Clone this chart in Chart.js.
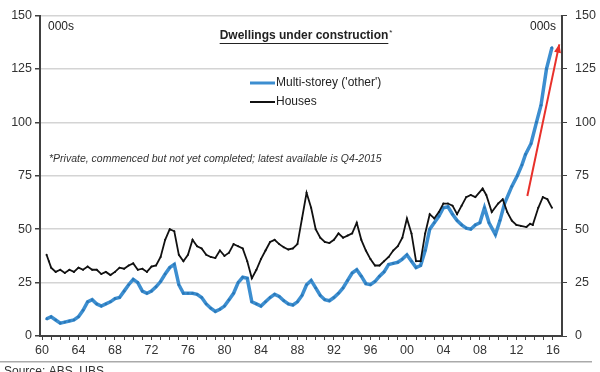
<!DOCTYPE html>
<html>
<head>
<meta charset="utf-8">
<script src="https://cdn.jsdelivr.net/npm/chart.js@4.4.0/dist/chart.umd.min.js"></script>
<style>
  html, body { margin: 0; padding: 0; background: #fff; }
  #wrap { width: 600px; height: 372px; position: relative; }
</style>
</head>
<body>
<div id="wrap"><canvas id="chart"></canvas></div>
<script>
// Dwellings under construction (000s)
const multiYears = [1960.5, 1961, 1961.5, 1962, 1962.5, 1963, 1963.5, 1964, 1964.5, 1965, 1965.5, 1966, 1966.5, 1967, 1967.5, 1968, 1968.5, 1969, 1969.5, 1970, 1970.5, 1971, 1971.5, 1972, 1972.5, 1973, 1973.5, 1974, 1974.5, 1975, 1975.5, 1976, 1976.5, 1977, 1977.5, 1978, 1978.5, 1979, 1979.5, 1980, 1980.5, 1981, 1981.5, 1982, 1982.5, 1983, 1983.5, 1984, 1984.5, 1985, 1985.5, 1986, 1986.5, 1987, 1987.5, 1988, 1988.5, 1989, 1989.5, 1990, 1990.5, 1991, 1991.5, 1992, 1992.5, 1993, 1993.5, 1994, 1994.5, 1995, 1995.5, 1996, 1996.5, 1997, 1997.5, 1998, 1998.5, 1999, 1999.5, 2000, 2000.5, 2001, 2001.5, 2002, 2002.5, 2003, 2003.5, 2004, 2004.5, 2005, 2005.5, 2006, 2006.5, 2007, 2007.5, 2008, 2008.5, 2009, 2009.7, 2010.2, 2010.7, 2011.5, 2012.1, 2012.6, 2013, 2013.6, 2014.2, 2014.7, 2015.3, 2015.9];
const multiValues = [8, 9, 7.5, 6, 6.5, 7, 7.5, 9, 12, 16, 17, 15, 14, 15, 16, 17.5, 18, 21, 24, 26.5, 25, 21, 20, 21, 23, 25.5, 29, 32, 33.5, 24, 20, 20, 20, 19.5, 18, 15, 13, 11.5, 12.5, 14, 17, 20, 25, 27.5, 27, 16, 15, 14, 16, 18, 19.5, 18.5, 16.5, 15, 14.5, 16, 19, 24, 26, 22.5, 19, 17, 16.5, 18, 20, 22.5, 26, 29.5, 31, 28, 24.5, 24, 25.5, 28, 30, 33.5, 34, 34.5, 36, 38, 35, 32, 33, 40, 50, 53, 56, 60, 60.5, 57, 54, 52, 50.5, 50, 52, 53, 60, 53, 47.5, 54, 62, 70, 75, 80, 85, 90, 100, 108, 125, 135];

const houseYears = [1960.5, 1960.75, 1961, 1961.5, 1962, 1962.5, 1963, 1963.5, 1964, 1964.5, 1965, 1965.5, 1966, 1966.5, 1967, 1967.5, 1968, 1968.5, 1969, 1969.5, 1970, 1970.5, 1971, 1971.5, 1972, 1972.5, 1973, 1973.5, 1974, 1974.5, 1975, 1975.5, 1976, 1976.5, 1977, 1977.5, 1978, 1978.5, 1979, 1979.5, 1980, 1980.5, 1981, 1981.5, 1982, 1982.5, 1983, 1983.5, 1984, 1984.5, 1985, 1985.5, 1986, 1986.5, 1987, 1987.5, 1988, 1988.5, 1989, 1989.5, 1990, 1990.5, 1991, 1991.5, 1992, 1992.5, 1993, 1993.5, 1994, 1994.5, 1995, 1995.5, 1996, 1996.5, 1997, 1997.5, 1998, 1998.5, 1999, 1999.5, 2000, 2000.5, 2001, 2001.5, 2002, 2002.5, 2003, 2003.5, 2004, 2004.5, 2005, 2005.5, 2006, 2006.5, 2007, 2007.5, 2008.3, 2008.7, 2009.3, 2010, 2010.5, 2011, 2011.5, 2012, 2012.5, 2013.1, 2013.5, 2013.8, 2014.4, 2014.9, 2015.4, 2015.9];
const houseValues = [38, 35, 32, 30, 31, 29.5, 31, 30, 32, 31, 32.5, 31, 31, 29, 30, 28.5, 30, 32, 31.5, 33, 34, 31, 31.5, 30, 32.5, 33, 37, 45, 50, 49, 38, 35, 38, 45, 42, 41, 38, 37, 36.5, 40, 37.5, 39, 43, 42, 41, 35, 27, 31, 36, 40, 44, 45, 43, 41.5, 40.5, 41, 43, 55, 67, 60, 50, 46, 44, 43.5, 45, 48, 46, 47, 48, 53, 45, 40, 36, 33, 33, 35, 37, 40, 42, 46, 55, 48, 35, 35, 48, 57, 55, 58, 62, 62, 61, 57, 61, 65, 66, 65, 69, 66, 58, 62, 64, 58, 54, 52, 51.5, 51, 52.5, 52, 60, 65, 64, 60];

// red trend arrow (start, head)
const arrowYears = [2013.2, 2016.7];
const arrowValues = [65.5, 136.5];

const yTicks = [0, 25, 50, 75, 100, 125, 150];
const xTickYears = [];
for (let y = 1960; y <= 2016; y++) xTickYears.push(y);

const toPoints = (xs, ys) => xs.map((x, i) => ({ x: x, y: ys[i] }));

const FONT = "'Liberation Sans', Arial, sans-serif";
const axisColor = '#404040';
const gridColor = '#d4d4d4';
const blue = '#3c8ed0';

// text, legend, arrowhead, source note
const decorPlugin = {
  id: 'decor',
  afterDatasetsDraw(chart) {
    const ctx = chart.ctx;
    const area = chart.chartArea;
    const xs = chart.scales.x;
    const ys = chart.scales.y;
    ctx.save();

    // arrowhead
    const x1 = xs.getPixelForValue(arrowYears[0]), y1 = ys.getPixelForValue(arrowValues[0]);
    const x2 = xs.getPixelForValue(arrowYears[1]), y2 = ys.getPixelForValue(arrowValues[1]);
    const ang = Math.atan2(y2 - y1, x2 - x1);
    ctx.fillStyle = '#e8302a';
    ctx.beginPath();
    ctx.moveTo(x2, y2);
    ctx.lineTo(x2 - 9 * Math.cos(ang - 0.4), y2 - 9 * Math.sin(ang - 0.4));
    ctx.lineTo(x2 - 9 * Math.cos(ang + 0.4), y2 - 9 * Math.sin(ang + 0.4));
    ctx.closePath();
    ctx.fill();

    ctx.fillStyle = '#222';
    ctx.textBaseline = 'middle';
    ctx.font = '12px ' + FONT;
    ctx.textAlign = 'left';
    ctx.fillText('000s', area.left + 8, area.top + 11);
    ctx.textAlign = 'right';
    ctx.fillText('000s', area.right - 6, area.top + 11);

    // title
    ctx.font = 'bold 12px ' + FONT;
    ctx.textAlign = 'center';
    const title = 'Dwellings under construction';
    const tx = 304, ty = 36;
    ctx.fillText(title, tx, ty);
    const tw = ctx.measureText(title).width;
    ctx.fillRect(tx - tw / 2, ty + 7, tw, 1);
    ctx.font = '8px ' + FONT;
    ctx.textAlign = 'left';
    ctx.fillText('*', tx + tw / 2 + 1, ty - 3);

    // legend
    ctx.font = '12px ' + FONT;
    ctx.lineWidth = 3;
    ctx.strokeStyle = blue;
    ctx.beginPath(); ctx.moveTo(250, 83); ctx.lineTo(275, 83); ctx.stroke();
    ctx.strokeStyle = '#111';
    ctx.lineWidth = 2;
    ctx.beginPath(); ctx.moveTo(250, 102); ctx.lineTo(275, 102); ctx.stroke();
    ctx.fillText("Multi-storey ('other')", 276, 83);
    ctx.fillText('Houses', 276, 102);

    // footnote
    ctx.font = 'italic 10.5px ' + FONT;
    ctx.fillStyle = '#333';
    ctx.fillText('*Private, commenced but not yet completed; latest available is Q4-2015', 49, 159);

    // source rule and cut-off source line
    ctx.fillStyle = '#aaa';
    ctx.fillRect(0, 361, 592, 1.5);
    ctx.fillStyle = '#333';
    ctx.font = '12px ' + FONT;
    ctx.textBaseline = 'top';
    ctx.fillText('Source: ABS, UBS', 4, 366);
    ctx.restore();
  }
};

new Chart(document.getElementById('chart'), {
  type: 'line',
  data: {
    datasets: [
      {
        label: 'Houses',
        data: toPoints(houseYears, houseValues),
        borderColor: '#111',
        borderWidth: 1.8,
        pointRadius: 1,
        pointBackgroundColor: '#111',
        pointBorderWidth: 0,
        tension: 0,
        yAxisID: 'y'
      },
      {
        label: "Multi-storey ('other')",
        data: toPoints(multiYears, multiValues),
        borderColor: blue,
        borderWidth: 3.5,
        pointRadius: 1.3,
        pointBackgroundColor: '#2a78b8',
        pointBorderWidth: 0,
        tension: 0,
        yAxisID: 'y'
      },
      {
        label: 'trend',
        data: toPoints(arrowYears, arrowValues),
        borderColor: '#e8302a',
        borderWidth: 2,
        pointRadius: 0,
        yAxisID: 'y'
      }
    ]
  },
  options: {
    responsive: true,
    maintainAspectRatio: false,
    animation: false,
    layout: { padding: { top: 14, left: 0, right: 0, bottom: 0 } },
    plugins: {
      legend: { display: false },
      tooltip: { enabled: false }
    },
    scales: {
      x: {
        type: 'linear',
        min: 1959.78,
        max: 2017,
        afterBuildTicks: s => { s.ticks = xTickYears.map(v => ({ value: v })); },
        afterFit: s => { s.height = 36; },
        grid: { drawOnChartArea: false, drawTicks: true, tickLength: 4, color: axisColor, lineWidth: 1 },
        border: { color: axisColor, width: 2 },
        ticks: {
          autoSkip: false,
          maxRotation: 0,
          padding: 3,
          color: '#333',
          font: { family: FONT, size: 12.5 },
          callback: v => (v % 4 === 0 ? String(v % 100).padStart(2, '0') : '')
        }
      },
      y: {
        position: 'left',
        min: 0,
        max: 150,
        afterBuildTicks: s => { s.ticks = yTicks.map(v => ({ value: v })); },
        afterFit: s => { s.width = 40; },
        grid: { color: gridColor, lineWidth: 1.5, tickColor: axisColor, tickLength: 5 },
        border: { color: axisColor, width: 2 },
        ticks: { padding: 3, color: '#333', font: { family: FONT, size: 12.5 } }
      },
      y2: {
        position: 'right',
        min: 0,
        max: 150,
        afterBuildTicks: s => { s.ticks = yTicks.map(v => ({ value: v })); },
        afterFit: s => { s.width = 38; },
        grid: { drawOnChartArea: false, tickColor: axisColor, tickLength: 5 },
        border: { color: axisColor, width: 2 },
        ticks: { padding: 8, color: '#333', font: { family: FONT, size: 12.5 } }
      }
    }
  },
  plugins: [decorPlugin]
});
</script>
</body>
</html>
